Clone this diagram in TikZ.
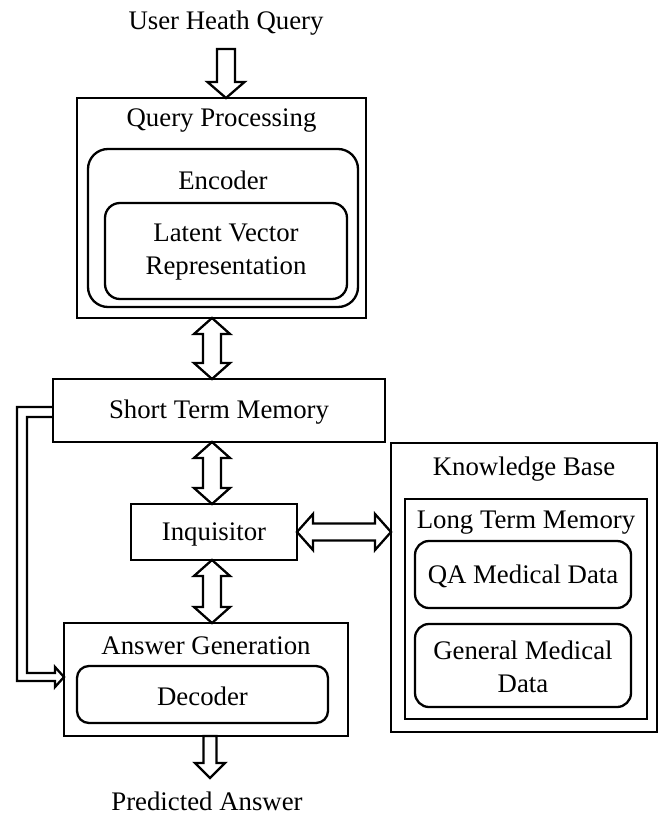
\documentclass[tikz,border=0pt]{standalone}
\usepackage{fontspec}
\setmainfont{Liberation Serif}
\usetikzlibrary{calc}

\tikzset{
  box/.style={draw, line width=2.3pt, inner sep=0pt, outer sep=0pt},
  rbox/.style={box, rounded corners=#1},
  rbox/.default=14pt,
  txt/.style={inner sep=0pt, align=center, font=\fontsize{26.8}{33}\selectfont},
  fat/.style={draw, line width=2.3pt, fill=white, line join=miter},
}

% outlined block arrow: start, end, shaft half-width, head half-width, head length
\newcommand\blockarrow[5]{%
  \coordinate (fA) at (#1);
  \coordinate (fB) at (#2);
  \coordinate (fH) at ($(fB)!#5!(fA)$);
  \draw[fat] ($(fA)!#3!90:(fB)$) -- ($(fH)!#3!90:(fB)$) -- ($(fH)!#4!90:(fB)$)
    -- (fB) -- ($(fH)!#4!-90:(fB)$) -- ($(fH)!#3!-90:(fB)$)
    -- ($(fA)!#3!-90:(fB)$) -- cycle;
}
% outlined double-headed block arrow
\newcommand\blockdarrow[5]{%
  \coordinate (fA) at (#1);
  \coordinate (fB) at (#2);
  \coordinate (fH) at ($(fA)!#5!(fB)$);
  \coordinate (fK) at ($(fB)!#5!(fA)$);
  \draw[fat] (fA) -- ($(fH)!#4!90:(fB)$) -- ($(fH)!#3!90:(fB)$)
    -- ($(fK)!#3!90:(fB)$) -- ($(fK)!#4!90:(fB)$) -- (fB)
    -- ($(fK)!#4!-90:(fB)$) -- ($(fK)!#3!-90:(fB)$)
    -- ($(fH)!#3!-90:(fB)$) -- ($(fH)!#4!-90:(fB)$) -- cycle;
}

\begin{document}
\begin{tikzpicture}[x=1pt, y=-1pt]
\useasboundingbox (0,0) rectangle (664,816);

% input and output labels
\node[txt] (query) at (226,23) {User Heath Query};
\node[txt] (answer) at (207,801) {Predicted Answer};

% query processing
\node[box, minimum width=289pt, minimum height=220pt] (qp) at (221.5,208) {};
\node[txt] (qpt) at (221.5,121) {Query Processing};
\node[rbox=20pt, minimum width=270pt, minimum height=158pt] (enc) at (223,228) {};
\node[txt] (enct) at (223,180) {Encoder};
\node[rbox=15pt, minimum width=242pt, minimum height=96pt] (lat) at (226,251) {};
\node[txt] (latt) at (226,252) {Latent Vector\\Representation};

% memory and inquisitor
\node[box, minimum width=332pt, minimum height=63pt] (stm) at (219,410.5) {};
\node[txt] (stmt) at (219,412) {Short Term Memory};
\node[box, minimum width=166pt, minimum height=56pt] (inq) at (214,532) {};
\node[txt] (inqt) at (214,534) {Inquisitor};

% answer generation
\node[box, minimum width=284pt, minimum height=113pt] (ag) at (206,679.5) {};
\node[txt] (agt) at (206,646) {Answer Generation};
\node[rbox=12pt, minimum width=251pt, minimum height=57pt] (dec) at (202.5,694.5) {};
\node[txt] (dect) at (202.5,696) {Decoder};

% knowledge base
\node[box, minimum width=266pt, minimum height=289pt] (kb) at (524,587.5) {};
\node[txt] (kbt) at (524,469) {Knowledge Base};
\node[box, minimum width=242pt, minimum height=220pt] (ltm) at (526,609) {};
\node[txt] (ltmt) at (526,523) {Long Term Memory};
\node[rbox=14pt, minimum width=216pt, minimum height=67pt] (qa) at (523,574.5) {};
\node[txt] (qat) at (523,576) {QA Medical Data};
\node[rbox=14pt, minimum width=216pt, minimum height=83pt] (gen) at (523,665.5) {};
\node[txt] (gent) at (523,667) {General Medical\\Data};

% arrow axes and free ends
\coordinate (topx) at (226,0);
\coordinate (midx) at (212,0);
\coordinate (botx) at (210,0);
\coordinate (qstart) at (226,49);
\coordinate (aend) at (210,778);

% block arrows
\blockarrow{qstart}{qp.north -| topx}{9pt}{18.5pt}{16pt}
\blockdarrow{qp.south -| midx}{stm.north -| midx}{9pt}{18pt}{16pt}
\blockdarrow{stm.south -| midx}{inq.north -| midx}{9pt}{18pt}{16pt}
\blockdarrow{inq.south -| midx}{ag.north -| midx}{9pt}{18pt}{16pt}
\blockdarrow{inq.east}{kb.west |- inq.east}{8.5pt}{18pt}{16pt}
\blockarrow{ag.south -| botx}{aend}{6.5pt}{15pt}{15pt}

% double-line feed from short term memory to answer generation
\draw[fat, fill=none]
  ($(stm.west)+(0,-3.5)$) -| ($(ag.west)+(-47,1.5)$)
  -- ($(ag.west)+(-9,1.5)$) -- ($(ag.west)+(-9,7.5)$)
  -- ($(ag.west)+(0,-2.5)$)
  -- ($(ag.west)+(-9,-12.5)$) -- ($(ag.west)+(-9,-6.5)$)
  -- ($(ag.west)+(-37,-6.5)$) |- ($(stm.west)+(0,6.5)$);
\end{tikzpicture}
\end{document}
